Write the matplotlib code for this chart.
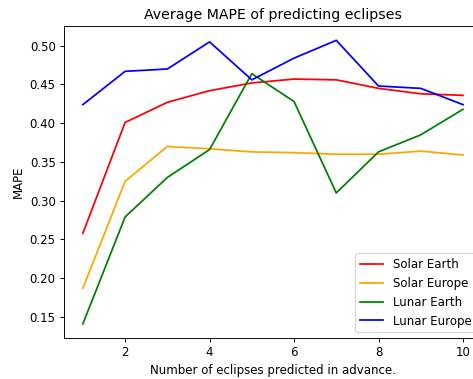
import matplotlib
matplotlib.use("Agg")
import matplotlib.pyplot as plt

# values
steps = [1, 2, 3, 4, 5, 6, 7, 8, 9, 10]
solar_earth = [0.258, 0.401, 0.427, 0.442, 0.452, 0.457, 0.456, 0.445, 0.438, 0.436]
solar_europe = [0.187, 0.325, 0.370, 0.367, 0.363, 0.362, 0.360, 0.360, 0.364, 0.359]
lunar_earth = [0.141, 0.279, 0.330, 0.366, 0.464, 0.428, 0.310, 0.363, 0.385, 0.418]
lunar_europe = [0.424, 0.467, 0.470, 0.505, 0.456, 0.484, 0.507, 0.448, 0.445, 0.424]

# reference looks like a scaled-down screenshot, so render at a lower dpi
DPI = 84.5
fig = plt.figure(figsize=(473 / DPI, 379 / DPI), dpi=DPI)
# the original image is cropped on the right, so the axes run past the edge
ax = fig.add_axes([0.135, 0.108, 0.884, 0.823])

ax.plot(steps, solar_earth, color="red", label="Solar Earth")
ax.plot(steps, solar_europe, color="orange", label="Solar Europe")
ax.plot(steps, lunar_earth, color="green", label="Lunar Earth")
ax.plot(steps, lunar_europe, color="blue", label="Lunar Europe")

ax.set_title("Average MAPE of predicting eclipses")
ax.set_xlabel("Number of eclipses predicted in advance.")
ax.set_ylabel("MAPE")
ax.legend(loc="lower right")

fig.savefig("out.png", dpi=DPI)
